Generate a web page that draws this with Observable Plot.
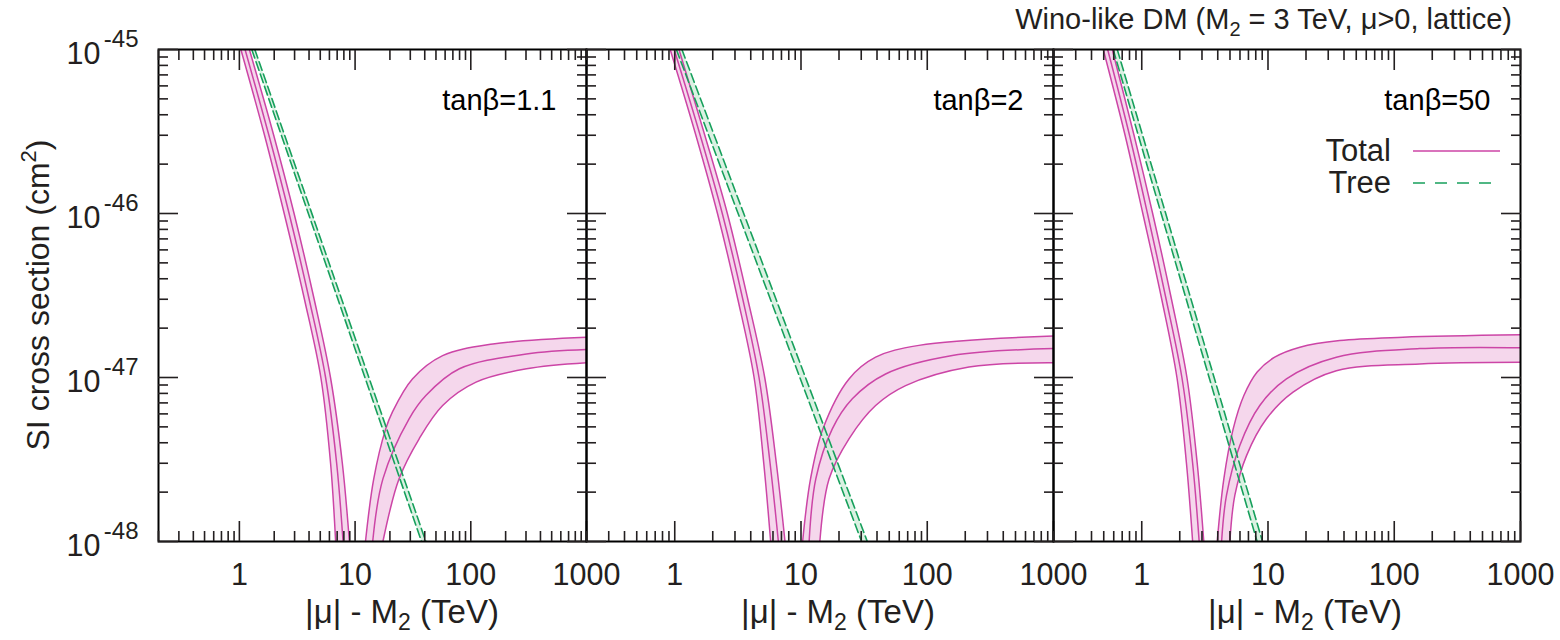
<!DOCTYPE html>
<html>
<head>
<meta charset="utf-8">
<script src="https://cdn.jsdelivr.net/npm/d3@7"></script>
<script src="https://cdn.jsdelivr.net/npm/@observablehq/plot@0.6"></script>
<style>
  html, body { margin: 0; padding: 0; background: #fff; }
  #figure { position: relative; width: 1560px; height: 640px; overflow: hidden; }
  #figure svg { position: absolute; top: 0; overflow: visible; }
</style>
</head>
<body>
<div id="figure"></div>
<script>
const FONT = "'Liberation Sans', Arial, Helvetica, sans-serif";
const INK = "#231f20";
const TOTAL_LINE = "#cc45a6";
const TOTAL_FILL = "#f5d7ec";
const TREE_LINE = "#17a05c";
const TREE_FILL = "#d3eedd";

// ---- axes ----
const xTickLabels = [1, 10, 100, 1000];
const minorSteps = [2, 3, 4, 5, 6, 7, 8, 9];
const xMinorTicks = [0.1, 1, 10, 100].flatMap(d => minorSteps.map(k => k * d));
const yMajorTicks = [1e-48, 1e-47, 1e-46, 1e-45];
const yMinorTicks = [1e-48, 1e-47, 1e-46].flatMap(d => minorSteps.map(k => k * d));
const panelLabels = ["tanβ=1.1", "tanβ=2", "tanβ=50"];

// ---- total cross section, falling branch ----
// σ levels (cm²) and the |μ|-M2 values (TeV) where each band edge crosses them
const fallSigma = [1e-45, 3e-46, 1e-46, 3e-47, 1e-47, 3e-48, 1e-48];
const fallLo_tb11  = [1.03, 1.65, 2.44, 3.65, 5.06, 6.14, 6.79];
const fallMid_tb11 = [1.12, 1.80, 2.69, 4.01, 5.56, 6.93, 7.87];
const fallHi_tb11  = [1.22, 1.98, 2.97, 4.43, 6.13, 7.76, 8.93];
const fallLo_tb2   = [0.92, 1.47, 2.18, 3.16, 4.25, 5.07, 5.75];
const fallMid_tb2  = [0.99, 1.59, 2.38, 3.46, 4.65, 5.69, 6.62];
const fallHi_tb2   = [1.08, 1.73, 2.61, 3.79, 5.16, 6.38, 7.47];
const fallLo_tb50  = [0.496, 0.738, 1.02, 1.44, 1.90, 2.26, 2.53];
const fallMid_tb50 = [0.537, 0.800, 1.11, 1.56, 2.08, 2.53, 2.85];
const fallHi_tb50  = [0.584, 0.869, 1.22, 1.72, 2.28, 2.75, 3.10];

// ---- total cross section, rising branch: [|μ|-M2 (TeV), σ (cm²)] ----
const riseHi_tb11  = [[12.3, 1e-48], [14.5, 2.41e-48], [18.4, 4.86e-48], [21.0, 6.15e-48], [31.3, 9.8e-48], [57.1, 1.36e-47], [155, 1.60e-47], [1000, 1.76e-47]];
const riseMid_tb11 = [[14.2, 1e-48], [17.4, 2.41e-48], [29.3, 5.6e-48], [40.9, 7.76e-48], [79.7, 1.13e-47], [303, 1.39e-47], [1000, 1.48e-47]];
const riseLo_tb11  = [[17.4, 1e-48], [24.0, 2.41e-48], [35.8, 4.23e-48], [57.1, 6.75e-48], [111, 9.37e-48], [303, 1.13e-47], [1000, 1.23e-47]];
const riseHi_tb2   = [[10.3, 1e-48], [11.9, 2.41e-48], [14.9, 4.86e-48], [24.0, 9.8e-48], [39.0, 1.33e-47], [85.9, 1.57e-47], [1000, 1.79e-47]];
const riseMid_tb2  = [[11.6, 1e-48], [13.1, 2.41e-48], [17.7, 4.86e-48], [25.5, 7.41e-48], [46.8, 1.05e-47], [158, 1.36e-47], [1000, 1.50e-47]];
const riseLo_tb2   = [[14.1, 1e-48], [16.7, 2.41e-48], [24.0, 4.23e-48], [39.0, 6.75e-48], [67.4, 8.93e-48], [214, 1.16e-47], [1000, 1.23e-47]];
const riseHi_tb50  = [[3.96, 1e-48], [4.47, 2.41e-48], [5.30, 4.86e-48], [6.44, 7.76e-48], [8.21, 1.08e-47], [11.3, 1.33e-47], [17.9, 1.53e-47], [37.0, 1.68e-47], [117, 1.76e-47], [1000, 1.82e-47]];
const riseMid_tb50 = [[4.29, 1e-48], [4.69, 1.91e-48], [5.98, 3.85e-48], [8.61, 6.75e-48], [14.0, 9.82e-48], [34.8, 1.33e-47], [159, 1.50e-47], [1000, 1.52e-47]];
const riseLo_tb50  = [[4.99, 1e-48], [5.46, 1.91e-48], [6.76, 3.34e-48], [9.73, 5.6e-48], [15.8, 8.15e-48], [34.8, 1.10e-47], [159, 1.21e-47], [1000, 1.24e-47]];

// ---- tree-level cross section band edges: [|μ|-M2 (TeV), σ (cm²)] ----
const treeHi_tb11 = [[1.36, 1e-45], [40.9, 1e-48]];
const treeLo_tb11 = [[1.28, 1e-45], [37.5, 1e-48]];
const treeHi_tb2  = [[1.14, 1e-45], [33.5, 1e-48]];
const treeLo_tb2  = [[1.03, 1e-45], [30.2, 1e-48]];
const treeHi_tb50 = [[0.640, 1e-45], [9.05, 1e-48]];
const treeLo_tb50 = [[0.594, 1e-45], [8.20, 1e-48]];

const panels = [
  {label: panelLabels[0], left: 0,    width: 586, marginLeft: 158, yLabels: true,
   fall: [fallLo_tb11, fallMid_tb11, fallHi_tb11], rise: [riseLo_tb11, riseMid_tb11, riseHi_tb11], tree: [treeLo_tb11, treeHi_tb11]},
  {label: panelLabels[1], left: 586,  width: 467, marginLeft: 0, yLabels: false,
   fall: [fallLo_tb2, fallMid_tb2, fallHi_tb2], rise: [riseLo_tb2, riseMid_tb2, riseHi_tb2], tree: [treeLo_tb2, treeHi_tb2]},
  {label: panelLabels[2], left: 1053, width: 467, marginLeft: 0, yLabels: false,
   fall: [fallLo_tb50, fallMid_tb50, fallHi_tb50], rise: [riseLo_tb50, riseMid_tb50, riseHi_tb50], tree: [treeLo_tb50, treeHi_tb50]}
];

const noText = () => "";

// inward-pointing ticks on all four sides
function tickMarks() {
  const common = {label: null, tickFormat: noText, stroke: INK, strokeWidth: 1.6};
  return [
    Plot.axisX(xTickLabels, {...common, anchor: "bottom", tickSize: -20}),
    Plot.axisX(xMinorTicks, {...common, anchor: "bottom", tickSize: -10}),
    Plot.axisX(xTickLabels, {...common, anchor: "top", tickSize: -20}),
    Plot.axisX(xMinorTicks, {...common, anchor: "top", tickSize: -10}),
    Plot.axisY(yMajorTicks, {...common, anchor: "left", tickSize: -20}),
    Plot.axisY(yMinorTicks, {...common, anchor: "left", tickSize: -10}),
    Plot.axisY(yMajorTicks, {...common, anchor: "right", tickSize: -20}),
    Plot.axisY(yMinorTicks, {...common, anchor: "right", tickSize: -10})
  ];
}

// closed outline of a band: upper edge, then lower edge reversed; the joining
// vertices are doubled so the spline meets them with a straight segment
function bandOutline(upper, lower) {
  const rev = lower.slice().reverse();
  return [...upper, upper[upper.length - 1], rev[0], ...rev];
}

function drawPanel(p) {
  const [fLo, fMid, fHi] = p.fall.map(xs => xs.map((x, i) => [x, fallSigma[i]]));
  const [rLo, rMid, rHi] = p.rise;
  const [tLo, tHi] = p.tree;
  const curve = "catmull-rom";
  const marks = [
    // shaded bands
    Plot.line(bandOutline(fHi, fLo), {curve, fill: TOTAL_FILL, stroke: "none"}),
    Plot.line(bandOutline(rHi, rLo), {curve, fill: TOTAL_FILL, stroke: "none"}),
    Plot.line(bandOutline(tHi, tLo), {fill: TREE_FILL, fillOpacity: 0.85, stroke: "none"}),
    // total: band edges and central value
    ...[fLo, fMid, fHi, rLo, rMid, rHi].map(d =>
      Plot.line(d, {curve, stroke: TOTAL_LINE, strokeWidth: 1.5})),
    // tree level
    ...[tLo, tHi].map(d =>
      Plot.line(d, {stroke: TREE_LINE, strokeWidth: 1.6, strokeDasharray: "9,4"})),
    Plot.frame({stroke: "#000", strokeWidth: 2}),
    ...tickMarks(),
    Plot.axisX(xTickLabels, {anchor: "bottom", tickSize: 0, tickPadding: 43, lineAnchor: "bottom",
      fontSize: 30.5, fill: INK, label: null, tickFormat: d => String(d)}),
    Plot.text([p.label], {frameAnchor: "top-right", dx: -30, dy: 60, lineAnchor: "bottom",
      textAnchor: "end", fontSize: 29, fill: "#000"})
  ];
  if (p.yLabels) {
    marks.push(
      Plot.axisY(yMajorTicks, {anchor: "left", tickSize: 0, tickPadding: 58, lineAnchor: "bottom", dy: 14,
        fontSize: 30.5, fill: INK, label: null, tickFormat: () => "10"}),
      Plot.axisY(yMajorTicks, {anchor: "left", tickSize: 0, tickPadding: 20, lineAnchor: "bottom", dy: -3,
        fontSize: 24, fill: INK, label: null, tickFormat: d => String(Math.round(Math.log10(d)))})
    );
  }
  const svg = Plot.plot({
    width: p.width,
    height: 640,
    marginTop: 49,
    marginBottom: 99,
    marginLeft: p.marginLeft,
    marginRight: 0,
    x: {type: "log", domain: [0.2, 1000]},
    y: {type: "log", domain: [1e-48, 1e-45]},
    style: {fontFamily: FONT, color: INK, background: "transparent", overflow: "hidden"},
    marks
  });
  svg.style.left = p.left + "px";
  document.getElementById("figure").append(svg);
  // keep curves inside the frame
  const id = "frame-clip-" + p.left;
  const svgSel = d3.select(svg);
  svgSel.insert("defs", ":first-child").append("clipPath").attr("id", id)
    .append("rect").attr("x", p.marginLeft).attr("y", 49)
    .attr("width", p.width - p.marginLeft).attr("height", 640 - 49 - 99);
  svgSel.selectAll("g[aria-label='line']").attr("clip-path", `url(#${id})`);
  svg.style.overflow = "visible";
}

panels.forEach(drawPanel);

// ---- title, axis titles and legend ----
const overlay = d3.select("#figure").append("svg")
  .attr("width", 1560).attr("height", 640)
  .style("left", "0px")
  .style("pointer-events", "none")
  .attr("font-family", FONT)
  .attr("fill", INK);

const title = overlay.append("text").attr("x", 1512).attr("y", 29)
  .attr("text-anchor", "end").attr("font-size", 29);
title.append("tspan").text("Wino-like DM (M");
title.append("tspan").attr("font-size", 20).attr("dy", 7).text("2");
title.append("tspan").attr("dy", -7).text(" = 3 TeV, μ>0, lattice)");

const yTitle = overlay.append("text")
  .attr("transform", "translate(49,295) rotate(-90)")
  .attr("text-anchor", "middle").attr("font-size", 32);
yTitle.append("tspan").text("SI cross section (cm");
yTitle.append("tspan").attr("font-size", 22).attr("dy", -13).text("2");
yTitle.append("tspan").attr("dy", 13).text(")");

[402, 838, 1305].forEach(cx => {
  const t = overlay.append("text").attr("x", cx).attr("y", 623)
    .attr("text-anchor", "middle").attr("font-size", 33);
  t.append("tspan").text("|μ| - M");
  t.append("tspan").attr("font-size", 23).attr("dy", 7).text("2");
  t.append("tspan").attr("dy", -7).text(" (TeV)");
});

const legend = [
  {name: "Total", color: TOTAL_LINE, dash: null, y: 151},
  {name: "Tree", color: TREE_LINE, dash: "12,10", y: 183}
];
legend.forEach(item => {
  overlay.append("text").attr("x", 1391).attr("y", item.y + 10)
    .attr("text-anchor", "end").attr("font-size", 31).text(item.name);
  overlay.append("line").attr("x1", 1413).attr("x2", 1500)
    .attr("y1", item.y).attr("y2", item.y)
    .attr("stroke", item.color).attr("stroke-width", 1.6)
    .attr("stroke-dasharray", item.dash);
});
</script>
</body>
</html>
